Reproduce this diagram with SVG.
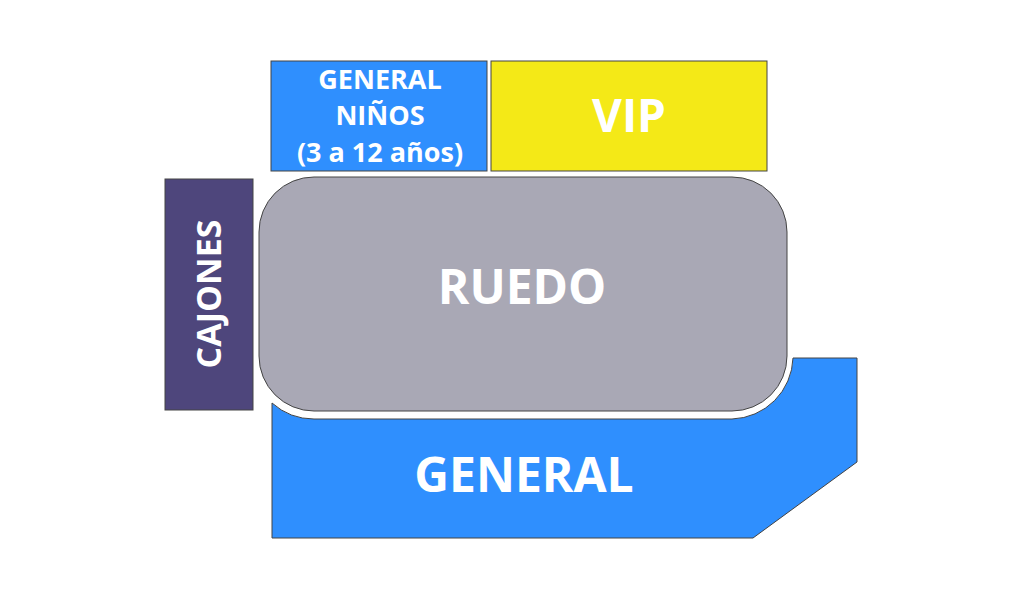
<svg xmlns="http://www.w3.org/2000/svg" width="1024" height="600" viewBox="0 0 1024 600">
<style>
.s{stroke:#444;stroke-width:1}
.t{font-family:"Open Sans","Liberation Sans",sans-serif;font-weight:bold;fill:#fff;text-anchor:middle}
</style>
<rect width="1024" height="600" fill="#fff"/>
<g id="ninos"><rect class="s" x="271" y="61" width="216" height="110" fill="#2f8ffe"/>
<text class="t" font-size="27" x="380" y="89">GENERAL</text>
<text class="t" font-size="27" x="380" y="125">NIÑOS</text>
<text class="t" font-size="27" x="380" y="162">(3 a 12 años)</text></g>
<g id="vip"><rect class="s" x="491" y="61" width="276" height="110" fill="#f4e917"/>
<text class="t" font-size="46" x="629" y="132">VIP</text></g>
<g id="cajones"><rect class="s" x="165" y="179" width="88" height="231" fill="#4e467c"/>
<text class="t" font-size="34" transform="translate(221,294) rotate(-90)">CAJONES</text></g>
<g id="ruedo"><rect class="s" x="259" y="177" width="528" height="234" rx="55" fill="#a9a8b5"/>
<text class="t" font-size="48" x="522" y="304">RUEDO</text></g>
<g id="general"><path class="s" d="M272,403 A63,63 0 0 0 314,419 L732,419 A63,63 0 0 0 793,358 L857,358 L857,462 L753,538 L272,538 Z" fill="#2f8ffe"/>
<text class="t" font-size="48" x="524" y="492">GENERAL</text></g>
<g id="connectors"/>
</svg>
